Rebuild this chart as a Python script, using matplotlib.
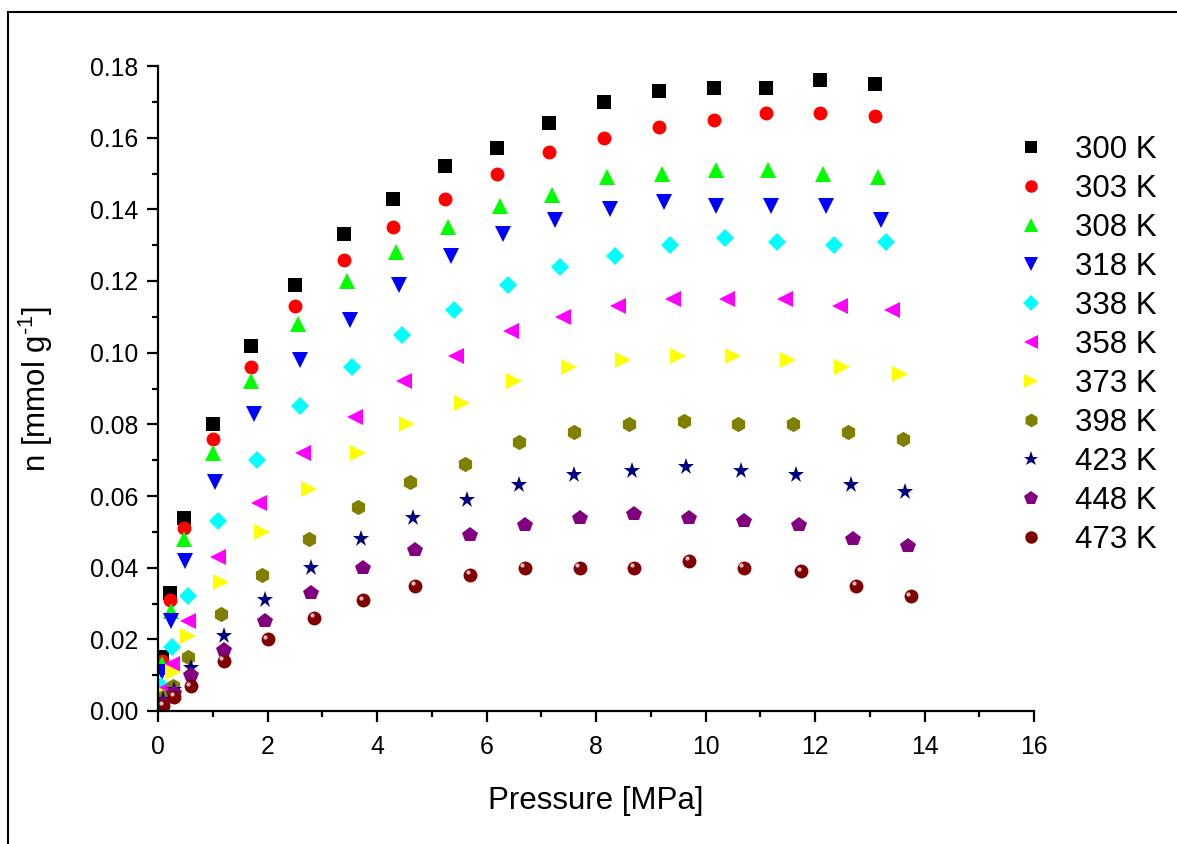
import numpy as np
import matplotlib
matplotlib.use("Agg")
import matplotlib.pyplot as plt
import matplotlib.transforms as mtransforms
from matplotlib.patches import Rectangle

plt.rcParams['font.family'] = ['Liberation Sans', 'DejaVu Sans']
plt.rcParams['mathtext.default'] = 'regular'

# Temperatures (legend labels)
temps = ['300 K', '303 K', '308 K', '318 K', '338 K', '358 K',
         '373 K', '398 K', '423 K', '448 K', '473 K']

# Pressure [MPa] for each isotherm
p_300 = [0.08, 0.22, 0.47, 1.0, 1.7, 2.5, 3.4, 4.3, 5.25, 6.2, 7.15, 8.15, 9.15, 10.15, 11.1, 12.1, 13.1]
p_303 = [0.08, 0.22, 0.47, 1.0, 1.7, 2.5, 3.4, 4.3, 5.25, 6.2, 7.15, 8.15, 9.15, 10.15, 11.1, 12.1, 13.1]
p_308 = [0.08, 0.23, 0.48, 1.0, 1.7, 2.55, 3.45, 4.35, 5.3, 6.25, 7.2, 8.2, 9.2, 10.2, 11.15, 12.15, 13.15]
p_318 = [0.08, 0.23, 0.5, 1.05, 1.75, 2.6, 3.5, 4.4, 5.35, 6.3, 7.25, 8.25, 9.25, 10.2, 11.2, 12.2, 13.2]
p_338 = [0.06, 0.25, 0.55, 1.1, 1.8, 2.6, 3.55, 4.45, 5.4, 6.4, 7.35, 8.35, 9.35, 10.35, 11.3, 12.35, 13.3]
p_358 = [0.08, 0.25, 0.55, 1.1, 1.85, 2.65, 3.6, 4.5, 5.45, 6.45, 7.4, 8.4, 9.4, 10.4, 11.45, 12.45, 13.4]
p_373 = [0.08, 0.28, 0.55, 1.15, 1.9, 2.75, 3.65, 4.55, 5.55, 6.5, 7.5, 8.5, 9.5, 10.5, 11.5, 12.5, 13.55]
p_398 = [0.1, 0.28, 0.55, 1.15, 1.9, 2.75, 3.65, 4.6, 5.6, 6.6, 7.6, 8.6, 9.6, 10.6, 11.6, 12.6, 13.6]
p_423 = [0.1, 0.3, 0.6, 1.2, 1.95, 2.8, 3.7, 4.65, 5.65, 6.6, 7.6, 8.65, 9.65, 10.65, 11.65, 12.65, 13.65]
p_448 = [0.1, 0.3, 0.6, 1.2, 1.95, 2.8, 3.75, 4.7, 5.7, 6.7, 7.7, 8.7, 9.7, 10.7, 11.7, 12.7, 13.7]
p_473 = [0.1, 0.3, 0.6, 1.2, 2.0, 2.85, 3.75, 4.7, 5.7, 6.7, 7.7, 8.7, 9.7, 10.7, 11.75, 12.75, 13.75]

# Excess uptake n [mmol/g]
n_300 = [0.015, 0.033, 0.054, 0.080, 0.102, 0.119, 0.133, 0.143, 0.152, 0.157, 0.164, 0.170, 0.173, 0.174, 0.174, 0.176, 0.175]
n_303 = [0.014, 0.031, 0.051, 0.076, 0.096, 0.113, 0.126, 0.135, 0.143, 0.150, 0.156, 0.160, 0.163, 0.165, 0.167, 0.167, 0.166]
n_308 = [0.013, 0.028, 0.048, 0.072, 0.092, 0.108, 0.120, 0.128, 0.135, 0.141, 0.144, 0.149, 0.150, 0.151, 0.151, 0.150, 0.149]
n_318 = [0.011, 0.025, 0.042, 0.064, 0.083, 0.098, 0.109, 0.119, 0.127, 0.133, 0.137, 0.140, 0.142, 0.141, 0.141, 0.141, 0.137]
n_338 = [0.007, 0.018, 0.032, 0.053, 0.070, 0.085, 0.096, 0.105, 0.112, 0.119, 0.124, 0.127, 0.130, 0.132, 0.131, 0.130, 0.131]
n_358 = [0.006, 0.013, 0.025, 0.043, 0.058, 0.072, 0.082, 0.092, 0.099, 0.106, 0.110, 0.113, 0.115, 0.115, 0.115, 0.113, 0.112]
n_373 = [0.005, 0.011, 0.021, 0.036, 0.050, 0.062, 0.072, 0.080, 0.086, 0.092, 0.096, 0.098, 0.099, 0.099, 0.098, 0.096, 0.094]
n_398 = [0.004, 0.007, 0.015, 0.027, 0.038, 0.048, 0.057, 0.064, 0.069, 0.075, 0.078, 0.080, 0.081, 0.080, 0.080, 0.078, 0.076]
n_423 = [0.003, 0.006, 0.012, 0.021, 0.031, 0.040, 0.048, 0.054, 0.059, 0.063, 0.066, 0.067, 0.068, 0.067, 0.066, 0.063, 0.061]
n_448 = [0.002, 0.005, 0.010, 0.017, 0.025, 0.033, 0.040, 0.045, 0.049, 0.052, 0.054, 0.055, 0.054, 0.053, 0.052, 0.048, 0.046]
n_473 = [0.0015, 0.004, 0.007, 0.014, 0.020, 0.026, 0.031, 0.035, 0.038, 0.040, 0.040, 0.040, 0.042, 0.040, 0.039, 0.035, 0.032]

pressures = [p_300, p_303, p_308, p_318, p_338, p_358, p_373, p_398, p_423, p_448, p_473]
uptakes = [n_300, n_303, n_308, n_318, n_338, n_358, n_373, n_398, n_423, n_448, n_473]

colors = ['#000000', '#FF0000', '#00FF00', '#0000FF', '#00FFFF', '#FF00FF',
          '#FFFF00', '#808000', '#000080', '#800080', '#800000']
markers = ['s', 'o', '^', 'v', 'D', '<', '>', 'h', '*', 'p', 'o']
sizes = [9.5, 10, 11, 11, 9, 11, 11, 11, 12.5, 11.5, 10]

fig = plt.figure(figsize=(11.77, 8.44), dpi=100)
ax = fig.add_axes([158/1177, 133/844, 876/1177, 645/844])

handles = []
for p, n, c, m, s, lab in zip(pressures, uptakes, colors, markers, sizes, temps):
    h, = ax.plot(p, n, linestyle='none', marker=m, color=c, markersize=s,
                 markeredgewidth=0, label=lab)
    handles.append(h)

# highlight on the "sphere" markers of the last series
hl = mtransforms.offset_copy(ax.transData, fig=fig, x=-1.7, y=1.7, units='points')
ax.plot(p_473, n_473, linestyle='none', marker='o', color='white', alpha=0.75,
        markersize=3, markeredgewidth=0, transform=hl)

ax.set_xlim(0, 16)
ax.set_ylim(0, 0.18)
ax.set_xticks(np.arange(0, 17, 2))
ax.set_xticks(np.arange(0, 17, 1), minor=True)
ax.set_yticks(np.arange(0, 0.181, 0.02))
ax.set_yticks(np.arange(0, 0.181, 0.01), minor=True)
ax.yaxis.set_major_formatter(matplotlib.ticker.FormatStrFormatter('%.2f'))

for side in ['top', 'right']:
    ax.spines[side].set_visible(False)
for side in ['left', 'bottom']:
    ax.spines[side].set_linewidth(1.6)
ax.tick_params(which='major', direction='out', length=8, width=1.6, labelsize=17.8, pad=6)
ax.tick_params(axis='x', which='major', pad=9)
ax.tick_params(which='minor', direction='out', length=4, width=1.6)

ax.set_xlabel('Pressure [MPa]', fontsize=22.5, labelpad=20)
ax.set_ylabel('n [mmol g$^{\u20101}$]', fontsize=22.5, labelpad=25)

ax.legend(handles=handles, loc='upper left', bbox_to_anchor=(1000/1177, 1 - 122/844),
          bbox_transform=fig.transFigure, frameon=False, fontsize=22.5,
          markerscale=0.9, labelspacing=0.29, handletextpad=0.8, handlelength=1.2,
          borderaxespad=0)

# outer frame
fig.patches.append(Rectangle((8/1177, -0.05), 1.1, 1 - 12/844 + 0.05,
                             transform=fig.transFigure, fill=False,
                             edgecolor='black', linewidth=1.5))

fig.savefig('out.png', dpi=100)
